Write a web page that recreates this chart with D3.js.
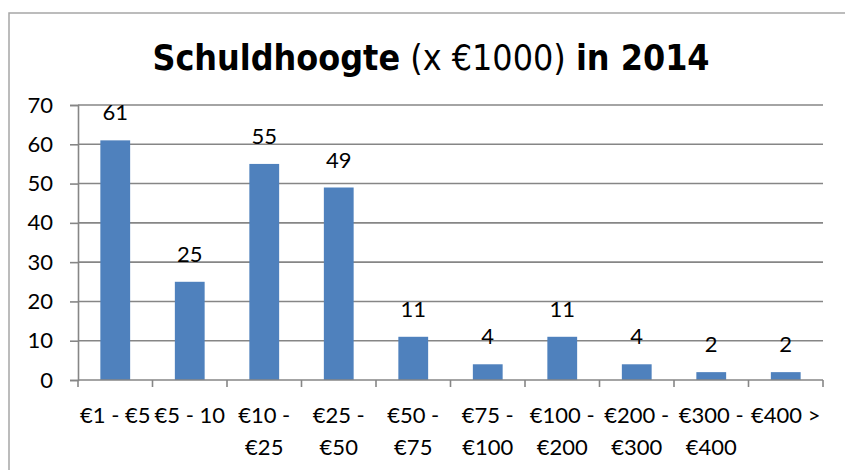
<!DOCTYPE html>
<html>
<head>
<meta charset="utf-8">
<script src="https://cdn.jsdelivr.net/npm/d3@7"></script>
<style>
  body { margin: 0; background: #fff; }
  svg { display: block; }
</style>
</head>
<body>
<div id="chart"></div>
<script>
// categories (two-line labels) and values
var categories = ["€1 - €5", "€5 - 10", "€10 - €25", "€25 - €50", "€50 - €75",
                  "€75 - €100", "€100 - €200", "€200 - €300", "€300 - €400", "€400 >"];
var labelLines = [["€1 - €5"], ["€5 - 10"], ["€10 -", "€25"], ["€25 -", "€50"], ["€50 -", "€75"],
                  ["€75 -", "€100"], ["€100 -", "€200"], ["€200 -", "€300"], ["€300 -", "€400"], ["€400 >"]];
var values = [61, 25, 55, 49, 11, 4, 11, 4, 2, 2];
var yTicks = [0, 10, 20, 30, 40, 50, 60, 70];

var width = 845, height = 470;
var plotLeft = 78, plotRight = 823, plotTop = 105, plotBottom = 380;
var font = "Lato, 'Open Sans', sans-serif";
var gridColor = "#868686";

var svg = d3.select("#chart").append("svg")
    .attr("width", width)
    .attr("height", height);

// outer frame (runs off the right and bottom edge)
svg.append("rect")
    .attr("x", 9).attr("y", 13)
    .attr("width", 900).attr("height", 500)
    .attr("fill", "#fff")
    .attr("stroke", "#a6a6a6")
    .attr("stroke-width", 1.5);

// title
var title = svg.append("text")
    .attr("x", 431).attr("y", 70)
    .attr("text-anchor", "middle")
    .style("font-family", "'DejaVu Sans Condensed', 'DejaVu Sans', sans-serif")
    .style("font-stretch", "condensed")
    .style("font-size", "35.5px")
    .attr("fill", "#000");
title.append("tspan").style("font-weight", "bold").text("Schuldhoogte");
title.append("tspan").text(" (x €1000) ");
title.append("tspan").style("font-weight", "bold").text("in 2014");

var x = d3.scaleBand()
    .domain(categories)
    .range([plotLeft, plotRight])
    .paddingInner(0.6)
    .paddingOuter(0.3);

var y = d3.scaleLinear()
    .domain([0, 70])
    .range([plotBottom, plotTop]);

// gridlines
svg.append("g")
  .selectAll("line")
  .data(yTicks.filter(function(d) { return d > 0; }))
  .enter().append("line")
    .attr("x1", plotLeft).attr("x2", plotRight)
    .attr("y1", function(d) { return y(d); })
    .attr("y2", function(d) { return y(d); })
    .attr("stroke", gridColor)
    .attr("stroke-width", 1.6);

// y axis
var yAxis = svg.append("g")
    .attr("transform", "translate(" + plotLeft + ",0)")
    .call(d3.axisLeft(y).tickValues(yTicks).tickSize(8).tickPadding(17));
yAxis.selectAll("line, path").attr("stroke", gridColor).attr("stroke-width", 1.6);
yAxis.selectAll("text")
    .style("font-family", font)
    .style("font-size", "22px")
    .attr("fill", "#000");

// bars
svg.append("g")
  .selectAll("rect")
  .data(values)
  .enter().append("rect")
    .attr("x", function(d, i) { return x(categories[i]); })
    .attr("y", function(d) { return y(d); })
    .attr("width", x.bandwidth())
    .attr("height", function(d) { return y(0) - y(d); })
    .attr("fill", "#4f81bd");

// value labels
svg.append("g")
  .selectAll("text")
  .data(values)
  .enter().append("text")
    .attr("x", function(d, i) { return x(categories[i]) + x.bandwidth() / 2; })
    .attr("y", function(d) { return y(d) - 20; })
    .attr("text-anchor", "middle")
    .style("font-family", font)
    .style("font-size", "22px")
    .attr("fill", "#000")
    .text(function(d) { return d; });

// x axis with tick marks at category boundaries
var step = (plotRight - plotLeft) / categories.length;
var xg = svg.append("g");
xg.append("line")
    .attr("x1", plotLeft).attr("x2", plotRight)
    .attr("y1", plotBottom).attr("y2", plotBottom)
    .attr("stroke", gridColor).attr("stroke-width", 1.6);
xg.selectAll(".tick")
  .data(d3.range(categories.length + 1))
  .enter().append("line")
    .attr("x1", function(i) { return plotLeft + i * step; })
    .attr("x2", function(i) { return plotLeft + i * step; })
    .attr("y1", plotBottom).attr("y2", plotBottom + 7)
    .attr("stroke", gridColor).attr("stroke-width", 1.6);

var xl = xg.selectAll(".xlab")
  .data(categories)
  .enter().append("text")
    .attr("x", function(d) { return x(d) + x.bandwidth() / 2; })
    .attr("y", 423)
    .attr("text-anchor", "middle")
    .style("font-family", font)
    .style("font-size", "22px")
    .attr("fill", "#000");
xl.selectAll("tspan")
  .data(function(d, i) { return labelLines[i]; })
  .enter().append("tspan")
    .attr("x", function() { return d3.select(this.parentNode).attr("x"); })
    .attr("dy", function(d, j) { return j === 0 ? 0 : 32; })
    .text(function(d) { return d; });
</script>
</body>
</html>
